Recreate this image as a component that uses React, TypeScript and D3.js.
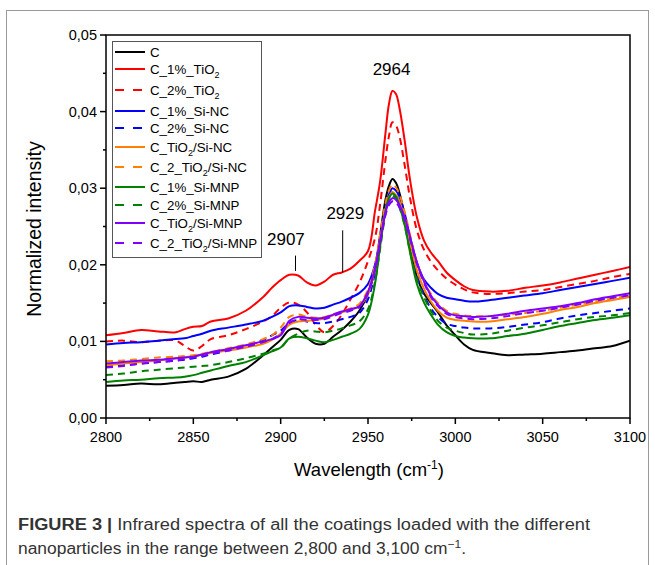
import React from "react";
import * as d3 from "d3";

const wavelengths = [2800, 2810, 2820, 2830, 2840, 2845, 2850, 2855, 2860, 2870, 2880, 2890, 2895, 2900, 2905, 2910, 2915, 2920, 2925, 2930, 2935, 2940, 2945, 2950, 2954, 2957, 2960, 2962, 2964, 2966, 2968, 2971, 2974, 2978, 2982, 2986, 2990, 2995, 3000, 3005, 3010, 3020, 3030, 3040, 3050, 3060, 3070, 3080, 3090, 3100];

const sC = [0.0042, 0.0043, 0.0045, 0.0044, 0.0046, 0.0047, 0.0048, 0.0047, 0.0050, 0.0054, 0.0064, 0.0082, 0.0092, 0.0102, 0.0115, 0.0116, 0.0105, 0.0097, 0.0097, 0.0106, 0.0115, 0.0126, 0.0140, 0.0162, 0.0195, 0.0240, 0.0285, 0.0303, 0.0312, 0.0307, 0.0294, 0.0264, 0.0226, 0.0184, 0.0163, 0.0150, 0.0138, 0.0121, 0.0108, 0.0096, 0.0089, 0.0085, 0.0082, 0.0083, 0.0084, 0.0086, 0.0088, 0.0091, 0.0094, 0.0101];
const s1TiO2 = [0.0108, 0.0111, 0.0115, 0.0113, 0.0112, 0.0116, 0.0119, 0.0120, 0.0126, 0.0130, 0.0140, 0.0158, 0.0170, 0.0180, 0.0187, 0.0186, 0.0177, 0.0173, 0.0178, 0.0187, 0.0190, 0.0195, 0.0205, 0.0218, 0.0270, 0.0310, 0.0372, 0.0410, 0.0427, 0.0423, 0.0405, 0.0362, 0.0312, 0.0262, 0.0232, 0.0216, 0.0205, 0.0190, 0.0180, 0.0172, 0.0167, 0.0165, 0.0166, 0.0170, 0.0173, 0.0177, 0.0182, 0.0187, 0.0192, 0.0197];
const s2TiO2 = [0.0100, 0.0101, 0.0099, 0.0101, 0.0101, 0.0094, 0.0088, 0.0094, 0.0103, 0.0108, 0.0116, 0.0126, 0.0133, 0.0144, 0.0151, 0.0148, 0.0138, 0.0122, 0.0112, 0.0120, 0.0135, 0.0155, 0.0176, 0.0205, 0.0235, 0.0280, 0.0337, 0.0368, 0.0386, 0.0382, 0.0368, 0.0330, 0.0288, 0.0245, 0.0220, 0.0204, 0.0193, 0.0182, 0.0174, 0.0168, 0.0164, 0.0162, 0.0163, 0.0165, 0.0167, 0.0171, 0.0175, 0.0179, 0.0184, 0.0188];
const s1SiNC = [0.0096, 0.0098, 0.0099, 0.0101, 0.0103, 0.0104, 0.0107, 0.0110, 0.0114, 0.0118, 0.0122, 0.0127, 0.0132, 0.0138, 0.0146, 0.0147, 0.0145, 0.0143, 0.0144, 0.0148, 0.0152, 0.0157, 0.0163, 0.0175, 0.0200, 0.0235, 0.0275, 0.0292, 0.0300, 0.0297, 0.0289, 0.0267, 0.0237, 0.0203, 0.0181, 0.0170, 0.0162, 0.0157, 0.0155, 0.0153, 0.0152, 0.0154, 0.0157, 0.0160, 0.0163, 0.0167, 0.0171, 0.0175, 0.0179, 0.0183];
const s2SiNC = [0.0067, 0.0069, 0.0071, 0.0073, 0.0075, 0.0076, 0.0078, 0.0080, 0.0083, 0.0088, 0.0094, 0.0102, 0.0108, 0.0114, 0.0124, 0.0128, 0.0126, 0.0124, 0.0124, 0.0126, 0.0129, 0.0132, 0.0137, 0.0155, 0.0190, 0.0230, 0.0270, 0.0287, 0.0295, 0.0291, 0.0281, 0.0257, 0.0225, 0.0188, 0.0161, 0.0143, 0.0132, 0.0123, 0.0120, 0.0118, 0.0117, 0.0117, 0.0119, 0.0122, 0.0125, 0.0130, 0.0134, 0.0137, 0.0140, 0.0143];
const sTiO2SiNC = [0.0069, 0.0071, 0.0073, 0.0075, 0.0078, 0.0079, 0.0081, 0.0083, 0.0085, 0.0088, 0.0092, 0.0097, 0.0102, 0.0110, 0.0122, 0.0126, 0.0127, 0.0128, 0.0130, 0.0134, 0.0138, 0.0141, 0.0146, 0.0162, 0.0195, 0.0235, 0.0272, 0.0288, 0.0295, 0.0291, 0.0282, 0.0260, 0.0229, 0.0193, 0.0169, 0.0152, 0.0140, 0.0131, 0.0128, 0.0127, 0.0126, 0.0126, 0.0129, 0.0132, 0.0136, 0.0141, 0.0145, 0.0150, 0.0154, 0.0158];
const s2TiO2SiNC = [0.0074, 0.0075, 0.0077, 0.0079, 0.0080, 0.0081, 0.0082, 0.0084, 0.0086, 0.0091, 0.0096, 0.0103, 0.0108, 0.0118, 0.0132, 0.0135, 0.0132, 0.0131, 0.0132, 0.0135, 0.0139, 0.0143, 0.0149, 0.0168, 0.0200, 0.0240, 0.0280, 0.0297, 0.0305, 0.0301, 0.0292, 0.0269, 0.0240, 0.0203, 0.0179, 0.0162, 0.0150, 0.0140, 0.0136, 0.0134, 0.0133, 0.0133, 0.0135, 0.0137, 0.0140, 0.0144, 0.0148, 0.0152, 0.0156, 0.0160];
const s1SiMNP = [0.0047, 0.0049, 0.0050, 0.0052, 0.0053, 0.0054, 0.0056, 0.0059, 0.0062, 0.0068, 0.0073, 0.0082, 0.0087, 0.0092, 0.0104, 0.0106, 0.0104, 0.0101, 0.0099, 0.0102, 0.0106, 0.0110, 0.0116, 0.0135, 0.0175, 0.0225, 0.0270, 0.0287, 0.0293, 0.0289, 0.0277, 0.0252, 0.0217, 0.0175, 0.0151, 0.0135, 0.0122, 0.0112, 0.0107, 0.0105, 0.0104, 0.0104, 0.0107, 0.0110, 0.0115, 0.0120, 0.0124, 0.0128, 0.0131, 0.0134];
const s2SiMNP = [0.0056, 0.0058, 0.0061, 0.0063, 0.0065, 0.0066, 0.0067, 0.0068, 0.0069, 0.0073, 0.0078, 0.0084, 0.0088, 0.0092, 0.0104, 0.0110, 0.0114, 0.0113, 0.0112, 0.0114, 0.0117, 0.0121, 0.0126, 0.0142, 0.0178, 0.0222, 0.0266, 0.0283, 0.0290, 0.0286, 0.0275, 0.0251, 0.0218, 0.0181, 0.0158, 0.0140, 0.0127, 0.0118, 0.0114, 0.0111, 0.0109, 0.0110, 0.0114, 0.0118, 0.0121, 0.0125, 0.0129, 0.0132, 0.0134, 0.0137];
const sTiO2SiMNP = [0.0071, 0.0073, 0.0075, 0.0076, 0.0078, 0.0079, 0.0080, 0.0083, 0.0086, 0.0090, 0.0095, 0.0100, 0.0103, 0.0108, 0.0127, 0.0132, 0.0131, 0.0130, 0.0131, 0.0135, 0.0139, 0.0142, 0.0146, 0.0165, 0.0195, 0.0232, 0.0268, 0.0282, 0.0287, 0.0285, 0.0278, 0.0262, 0.0237, 0.0203, 0.0179, 0.0160, 0.0148, 0.0138, 0.0134, 0.0133, 0.0132, 0.0133, 0.0136, 0.0140, 0.0143, 0.0146, 0.0150, 0.0155, 0.0159, 0.0163];
const s2TiO2SiMNP = [0.0066, 0.0068, 0.0071, 0.0073, 0.0075, 0.0077, 0.0079, 0.0081, 0.0084, 0.0088, 0.0093, 0.0099, 0.0103, 0.0110, 0.0124, 0.0129, 0.0128, 0.0128, 0.0129, 0.0133, 0.0137, 0.0140, 0.0145, 0.0163, 0.0193, 0.0230, 0.0265, 0.0278, 0.0283, 0.0281, 0.0275, 0.0259, 0.0234, 0.0201, 0.0177, 0.0158, 0.0146, 0.0136, 0.0132, 0.0130, 0.0129, 0.0130, 0.0133, 0.0137, 0.0140, 0.0144, 0.0148, 0.0153, 0.0157, 0.0160];

// label parts: [before, subscript, after]
const seriesLabels: [string, string, string][] = [
  ["C", "", ""],
  ["C_1%_TiO", "2", ""],
  ["C_2%_TiO", "2", ""],
  ["C_1%_Si-NC", "", ""],
  ["C_2%_Si-NC", "", ""],
  ["C_TiO", "2", "/Si-NC"],
  ["C_2_TiO", "2", "/Si-NC"],
  ["C_1%_Si-MNP", "", ""],
  ["C_2%_Si-MNP", "", ""],
  ["C_TiO", "2", "/Si-MNP"],
  ["C_2_TiO", "2", "/Si-MNP"],
];
const seriesValues = [sC, s1TiO2, s2TiO2, s1SiNC, s2SiNC, sTiO2SiNC, s2TiO2SiNC, s1SiMNP, s2SiMNP, sTiO2SiMNP, s2TiO2SiMNP];
const seriesColors = ["#000000", "#ff0000", "#ff0000", "#0000ff", "#0000ff", "#ff8000", "#ff8000", "#008000", "#008000", "#8000ff", "#8000ff"];
const seriesDashed = [false, false, true, false, true, false, true, false, true, false, true];

const xTicks = [2800, 2850, 2900, 2950, 3000, 3050, 3100];
const xMinorTicks = [2825, 2875, 2925, 2975, 3025, 3075];
const yTicks = [0, 0.01, 0.02, 0.03, 0.04, 0.05];
const yMinorTicks = [0.005, 0.015, 0.025, 0.035, 0.045];

const peakLabels = [
  { text: "2964", wl: 2963.5, value: 0.0455 },
  { text: "2929", wl: 2937, value: 0.0267 },
  { text: "2907", wl: 2903, value: 0.0234 },
];
const peakMarkers = [
  { wl: 2935.5, from: 0.0245, to: 0.0190 },
  { wl: 2908.5, from: 0.0212, to: 0.0192 },
];

const legendRowY = [52, 69, 90, 111, 128, 147, 167, 187, 205, 223, 243];

export default function App() {
  const left = 106, right = 630, top = 35, bottom = 418;
  const x = d3.scaleLinear().domain([2800, 3100]).range([left, right]);
  const y = d3.scaleLinear().domain([0, 0.05]).range([bottom, top]);
  const line = d3
    .line<[number, number]>()
    .x((d) => x(d[0]))
    .y((d) => y(d[1]))
    .curve(d3.curveCatmullRom.alpha(0.5));
  const font = "Liberation Sans, Arial, sans-serif";

  return (
    <svg width={655} height={565} style={{ position: "absolute", left: 0, top: 0, background: "#fff" }} fontFamily={font}>
      <rect x={6.5} y={10.5} width={642} height={600} fill="none" stroke="#9a9a9a" strokeWidth={1} />
      <defs>
        <clipPath id="plotclip">
          <rect x={left} y={top} width={right - left} height={bottom - top} />
        </clipPath>
      </defs>
      <g clipPath="url(#plotclip)">
        {seriesValues.map((vals, i) => (
          <path
            key={i}
            d={line(wavelengths.map((w, j) => [w, vals[j]] as [number, number])) || ""}
            fill="none"
            stroke={seriesColors[i]}
            strokeWidth={2}
            strokeDasharray={seriesDashed[i] ? "7,5" : undefined}
            strokeLinejoin="round"
          />
        ))}
      </g>
      {/* frame */}
      <rect x={left} y={top} width={right - left} height={bottom - top} fill="none" stroke="#000" strokeWidth={1.5} />
      {/* x ticks */}
      {xTicks.map((t) => (
        <g key={"xt" + t}>
          <line x1={x(t)} x2={x(t)} y1={bottom} y2={bottom + 6} stroke="#000" strokeWidth={1.5} />
          <text x={x(t)} y={bottom + 24} textAnchor="middle" fontSize={14.5}>{t}</text>
        </g>
      ))}
      {xMinorTicks.map((t) => (
        <line key={"xm" + t} x1={x(t)} x2={x(t)} y1={bottom} y2={bottom + 3} stroke="#000" strokeWidth={1.5} />
      ))}
      {yTicks.map((t) => (
        <g key={"yt" + t}>
          <line x1={left - 6} x2={left} y1={y(t)} y2={y(t)} stroke="#000" strokeWidth={1.5} />
          <text x={left - 9} y={y(t) + 5} textAnchor="end" fontSize={14.5}>{t.toFixed(2).replace(".", ",")}</text>
        </g>
      ))}
      {yMinorTicks.map((t) => (
        <line key={"ym" + t} x1={left - 3} x2={left} y1={y(t)} y2={y(t)} stroke="#000" strokeWidth={1.5} />
      ))}
      {/* axis titles */}
      <text x={369} y={476} textAnchor="middle" fontSize={18.5}>
        Wavelength (cm<tspan dy={-7} fontSize={12}>-1</tspan><tspan dy={7}>)</tspan>
      </text>
      <text transform="translate(41,229) rotate(-90)" textAnchor="middle" fontSize={19.5}>Normalized intensity</text>
      {/* peak annotations */}
      {peakLabels.map((p) => (
        <text key={p.text} x={x(p.wl)} y={y(p.value) + 6} textAnchor="middle" fontSize={17}>{p.text}</text>
      ))}
      {peakMarkers.map((m, i) => (
        <line key={"pm" + i} x1={x(m.wl)} x2={x(m.wl)} y1={y(m.from)} y2={y(m.to)} stroke="#000" strokeWidth={1} />
      ))}
      {/* legend */}
      <rect x={112.5} y={41.5} width={149} height={216} fill="#fff" stroke="#555" strokeWidth={1} />
      {seriesLabels.map((lab, i) => (
        <g key={"lg" + i}>
          <line x1={115} x2={145} y1={legendRowY[i]} y2={legendRowY[i]} stroke={seriesColors[i]} strokeWidth={2} strokeDasharray={seriesDashed[i] ? "9,9" : undefined} />
          <text x={150} y={legendRowY[i] + 4.5} fontSize={13.3}>
            {lab[0]}
            {lab[1] && <tspan dy={4} fontSize={9}>{lab[1]}</tspan>}
            {lab[1] && <tspan dy={-4}>{lab[2]}</tspan>}
          </text>
        </g>
      ))}
      {/* caption */}
      <text x={18} y={530} fontSize={16} fill="#333" textLength={572} lengthAdjust="spacingAndGlyphs">
        <tspan fontWeight="bold">FIGURE 3 | </tspan>Infrared spectra of all the coatings loaded with the different
      </text>
      <text x={18} y={554} fontSize={16} fill="#333" textLength={448} lengthAdjust="spacingAndGlyphs">
        nanoparticles in the range between 2,800 and 3,100 cm<tspan dy={-6} fontSize={11}>−1</tspan><tspan dy={6}>.</tspan>
      </text>
    </svg>
  );
}
